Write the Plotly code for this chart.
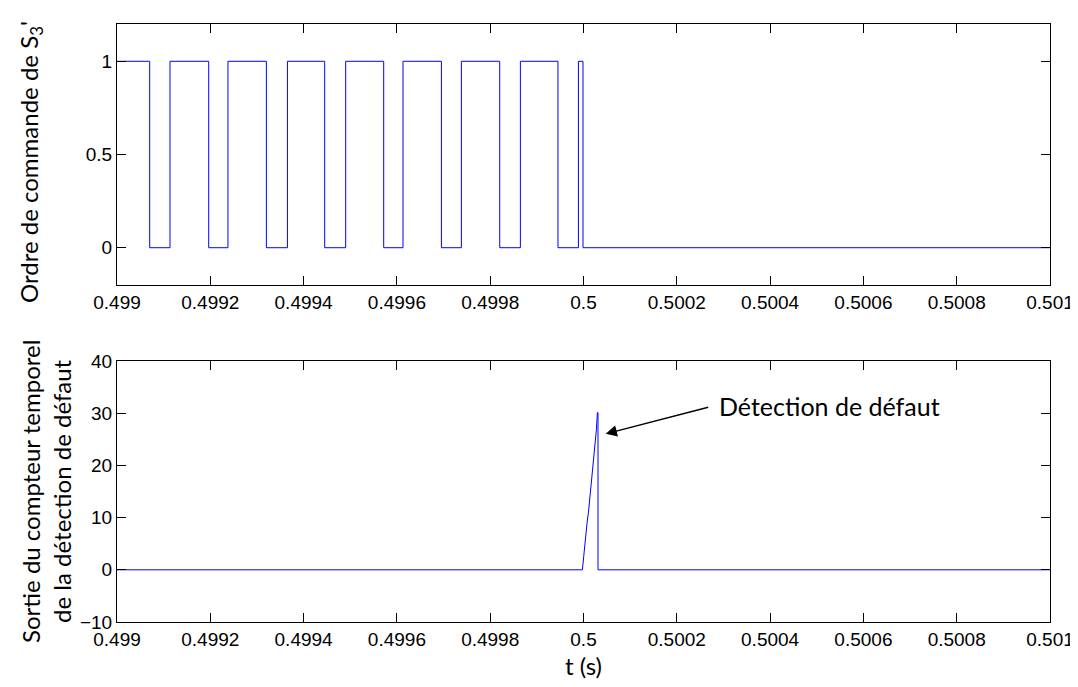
import plotly.graph_objects as go

# ---- data ----
# top: switching instants of the command signal (starts at 1, toggles at each instant)
switch_times = [0.4990701, 0.4991136, 0.4991966, 0.4992379, 0.4993202, 0.4993653,
                0.4994452, 0.4994902, 0.4995717, 0.4996131, 0.4996954, 0.4997382,
                0.4998204, 0.4998647, 0.4999453, 0.4999891, 0.4999989]
t_start, t_end = 0.499, 0.501
start_level = 1

# bottom: counter output
counter_t = [0.499, 0.4999976, 0.5000004, 0.5000025, 0.5000047, 0.5000075, 0.5000105,
             0.5000133, 0.5000154, 0.5000182, 0.5000203, 0.5000225, 0.5000246,
             0.5000276, 0.5000298, 0.5000311, 0.5000311, 0.501]
counter_v = [0, 0, 2.5, 4.5, 7.0, 8.9, 10.9, 13.4, 15.3, 17.9, 19.8, 22.4, 24.3,
             26.8, 30.1, 30.1, 0, 0]

x_tickvals = [0.499, 0.4992, 0.4994, 0.4996, 0.4998, 0.5, 0.5002, 0.5004, 0.5006, 0.5008, 0.501]
x_ticktext = ["0.499", "0.4992", "0.4994", "0.4996", "0.4998", "0.5", "0.5002",
              "0.5004", "0.5006", "0.5008", "0.501"]
y1_ticks = [0, 0.5, 1]
y1_text = ["0", "0.5", "1"]
y2_ticks = [-10, 0, 10, 20, 30, 40]

title_top = "Ordre de commande de S<sub>3</sub>'"
title_bottom = "Sortie du compteur temporel<br>de la détection de défaut"
title_x = "t (s)"
annot_point = (0.5000476, 26.05)
annot_text = "Détection de défaut"

# ---- build step signal ----
st_x = [t_start]
st_y = [start_level]
lvl = start_level
for t in switch_times:
    st_x.append(t); st_y.append(lvl)
    lvl = 1 - lvl
    st_x.append(t); st_y.append(lvl)
st_x.append(t_end); st_y.append(lvl)

fig = go.Figure()
fig.add_trace(go.Scatter(x=st_x, y=st_y, mode="lines",
                         line=dict(color="#0000ff", width=1), xaxis="x", yaxis="y"))
fig.add_trace(go.Scatter(x=counter_t, y=counter_v, mode="lines",
                         line=dict(color="#0000ff", width=1), xaxis="x2", yaxis="y2"))

tickfont = dict(family="Liberation Sans, Arial", size=19, color="black")
titlefont = dict(family="Lato, Open Sans", size=24, color="black")

common_x = dict(range=[t_start, t_end], tickvals=x_tickvals, ticktext=x_ticktext,
                ticks="inside", ticklen=9, tickcolor="black", showline=True,
                linecolor="black", linewidth=1, mirror="ticks", showgrid=False,
                zeroline=False, tickfont=tickfont, automargin=False)
common_y = dict(ticks="inside", ticklen=9, tickcolor="black", showline=True,
                linecolor="black", linewidth=1, mirror="ticks", showgrid=False,
                zeroline=False, tickfont=tickfont, automargin=False)

# page has an 8px body margin; size the figure to compensate
OFF = 8
W, H = 1078 - OFF, 687 - OFF
L, R, T, B = 117 - OFF, 28, 24 - OFF, 65
plot_h = H - T - B
plot_w = W - L - R
panel = 261 / plot_h

def px_x(p):
    return (p - OFF - L) / plot_w

def px_y(p):
    return (H - B - (p - OFF)) / plot_h

fig.update_layout(
    width=W, height=H,
    margin=dict(l=L, r=R, t=T, b=B),
    paper_bgcolor="white", plot_bgcolor="white",
    showlegend=False,
    xaxis=dict(domain=[0, 1], anchor="y", **common_x),
    yaxis=dict(domain=[1 - panel, 1], anchor="x", range=[-0.2, 1.2],
               tickvals=y1_ticks, ticktext=y1_text, **common_y),
    xaxis2=dict(domain=[0, 1], anchor="y2", **common_x),
    yaxis2=dict(domain=[0, panel], anchor="x2", range=[-10, 40], tickvals=y2_ticks,
                **common_y),
)

fig.add_annotation(x=px_x(31), y=px_y(162), xref="paper", yref="paper", text=title_top,
                   textangle=-90, showarrow=False, xanchor="center", yanchor="middle",
                   font=titlefont)
fig.add_annotation(x=px_x(46), y=px_y(492), xref="paper", yref="paper", text=title_bottom,
                   textangle=-90, showarrow=False, xanchor="center", yanchor="middle",
                   font=titlefont)
fig.add_annotation(x=px_x(583), y=px_y(665), xref="paper", yref="paper", text=title_x,
                   showarrow=False, xanchor="center", yanchor="middle", font=titlefont)

fig.add_annotation(x=annot_point[0], y=annot_point[1], xref="x2", yref="y2",
                   ax=104, ay=-27, axref="pixel", ayref="pixel", text="",
                   showarrow=True, arrowhead=2, arrowsize=1.6, arrowwidth=1.4,
                   arrowcolor="black")
fig.add_annotation(x=0.5002855, y=31.3, xref="x2", yref="y2", text=annot_text,
                   showarrow=False, xanchor="left", yanchor="middle",
                   font=dict(family="Lato, Open Sans", size=25, color="black"))

fig.write_html("out.html")
